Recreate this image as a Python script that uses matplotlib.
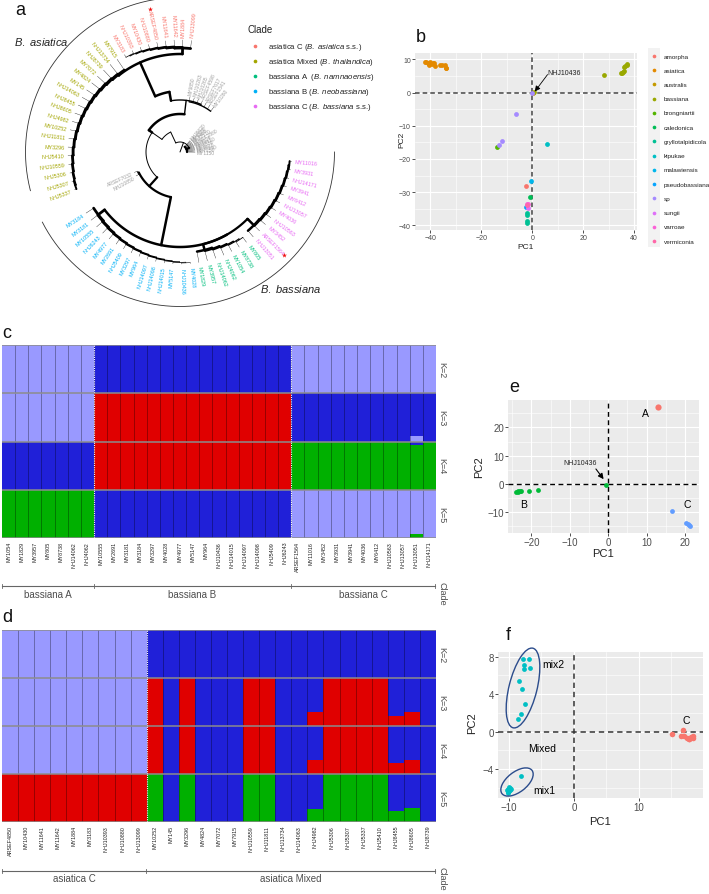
import numpy as np
import matplotlib
matplotlib.use('Agg')
import matplotlib.pyplot as plt
from matplotlib.patches import Ellipse, Rectangle
from matplotlib.ticker import AutoMinorLocator

plt.rcParams['font.family'] = ['Liberation Sans', 'DejaVu Sans']
plt.rcParams['mathtext.fontset'] = 'custom'
plt.rcParams['mathtext.it'] = 'Liberation Sans:italic'
plt.rcParams['mathtext.rm'] = 'Liberation Sans'

W, H = 709, 895

# ---- panel a: tips in tree order, counter clockwise from the right
fan_tips = ['MY1150', 'MY7150', 'NHJ7160', 'MY6610', 'MY8830', 'NHJ4510', 'MY9024', 'ARSEF2860',
            'NHJ2570', 'MY5460', 'MY3320', 'NHJ6620']
upper_tips = ['MY10260', 'ARSEF1541', 'ARSEF7617', 'ARSEF4598', 'NHJ10265', 'NHJ10263', 'MY9850']
asia_c_tips = ['NHJ13099', 'MY1884', 'MY11642', 'MY11641', 'ARSEF4850', 'NHJ10880', 'MY10430',
               'NHJ10393', 'MY3183']
asia_mix_tips = ['MY7915', 'NHJ13734', 'NHJ8739', 'MY7072', 'MY4824', 'MY145', 'NHJ14063', 'NHJ8455',
                 'NHJ8605', 'NHJ4982', 'MY10252', 'NHJ11811', 'MY3296', 'NHJ5410', 'NHJ10559',
                 'NHJ5306', 'NHJ5307', 'NHJ5337']
lower_tips = ['ARSEF7032', 'NHJ10850']
bass_b_tips = ['MY3184', 'MY3181', 'MY10555', 'NHJ6243', 'MY4977', 'MY2691', 'NHJ5409', 'MY3297',
               'MY964', 'NHJ14097', 'NHJ14098', 'NHJ14015', 'MY5147', 'NHJ10436', 'MY4028']
bass_a_tips = ['MY1829', 'MY3957', 'NHJ14062', 'NHJ4062', 'MY1054', 'MY8738', 'MY805']
bass_c_tips = ['NHJ13051', 'ARSEF1564', 'MY3452', 'NHJ10563', 'MY4036', 'NHJ13057', 'MY6412',
               'MY3941', 'NHJ14171', 'MY3931', 'MY11016']
starred = ['ARSEF4850', 'ARSEF1564']

clade_names = ['asiatica C ($\\mathit{B.\\ asiatica}$ s.s.)',
               'asiatica Mixed ($\\mathit{B.\\ thailandica}$)',
               'bassiana A  ($\\mathit{B.\\ namnaoensis}$)',
               'bassiana B ($\\mathit{B.\\ neobassiana}$)',
               'bassiana C ($\\mathit{B.\\ bassiana}$ s.s.)']
clade_colors = ['#F8766D', '#A3A500', '#00BF7D', '#00B0F6', '#E76BF3']

# ---- panel b
species = ['amorpha', 'asiatica', 'australis', 'bassiana', 'brongniartii', 'caledonica',
           'gryllotalpidicola', 'kipukae', 'malawiensis', 'pseudobassiana', 'sp', 'sungii',
           'varroae', 'vermiconia']
species_colors = ['#F8766D', '#E38900', '#C49A00', '#99A800', '#53B400', '#00BC56', '#00C094',
                  '#00BFC4', '#00B6EB', '#06A4FF', '#A58AFF', '#DF70F8', '#FB61D7', '#FF66A8']
b_pc1 = [[-2.3],
         [-42, -41.5, -41, -40.5, -40.5, -40, -39.5, -39, -38.7, -38.3, -36, -35.5, -34.3, -34, -33.8],
         [0.3],
         [28, 35, 35.3, 35.7, 36, 36, 36.5, 37, 37.3, 0.6],
         [-14],
         [-0.8],
         [-2, -1.9, -2.2, -2.1],
         [5.8],
         [-0.3],
         [-2.3],
         [-6.2, -12, -13.2, -0.1],
         [-1.6],
         [-1.8, -2.2],
         [-1.9]]
b_pc2 = [[-28],
         [9.3, 9.2, 9, 8.7, 8.4, 9.1, 8.5, 9, 8.8, 8, 8.4, 8.3, 8.2, 7.5, 7.4],
         [0],
         [5.2, 5.8, 6, 6.3, 7.6, 6.6, 8, 8.4, 8.5, 0.3],
         [-16.3],
         [-31.5],
         [-36.3, -36.8, -38.7, -39.2],
         [-15.6],
         [-26.5],
         [-34.5],
         [-6.5, -14.7, -15.7, -0.2],
         [-34.8],
         [-33.6, -33.7],
         [-33.8]]

# ---- panel c
c_a = ['MY1054', 'MY1829', 'MY3957', 'MY805', 'MY8738', 'NHJ14062', 'NHJ4062']
c_b = ['MY10555', 'MY2691', 'MY3181', 'MY3184', 'MY3297', 'MY4028', 'MY4977', 'MY5147', 'MY964',
       'NHJ10436', 'NHJ14015', 'NHJ14097', 'NHJ14098', 'NHJ5409', 'NHJ6243']
c_c = ['ARSEF1564', 'MY11016', 'MY3452', 'MY3931', 'MY3941', 'MY4036', 'MY6412', 'NHJ10563',
       'NHJ13057', 'NHJ13051', 'NHJ14171']
c_k2 = ['L'] * 7 + ['B'] * 15 + ['L'] * 11
c_k3 = ['L'] * 7 + ['R'] * 15 + ['B'] * 11
c_k4 = ['B'] * 7 + ['R'] * 15 + ['G'] * 9 + ['B', 'G']
c_k5 = ['G'] * 7 + ['B'] * 15 + ['L'] * 11
c_k2_low = {}
c_k3_low = {31: ('L', 0.12)}
c_k4_low = {31: ('G', 0.92)}
c_k5_low = {31: ('G', 0.08)}

# ---- panel d
d_c = ['ARSEF4850', 'MY10430', 'MY11641', 'MY11642', 'MY1884', 'MY3183', 'NHJ10393', 'NHJ10880',
       'NHJ13099']
d_mix = ['MY10252', 'MY145', 'MY3296', 'MY4824', 'MY7072', 'MY7915', 'NHJ10559', 'NHJ11811',
         'NHJ13734', 'NHJ14063', 'NHJ4982', 'NHJ5306', 'NHJ5307', 'NHJ5337', 'NHJ5410', 'NHJ8455',
         'NHJ8605', 'NHJ8739']
d_k2 = ['L'] * 9 + ['B'] * 18
d_k3 = ['L'] * 9 + list('RBRBBBRRBBBRRRRBBB')
d_k4 = ['L'] * 9 + list('RBRBBBRRBBBRRRRBBB')
d_k5 = ['R'] * 9 + list('GBGBBBGGBBBGGGGBBB')
d_k2_low = {}
d_k3_low = {19: ('R', 0.29), 24: ('R', 0.21), 25: ('R', 0.29)}
d_k4_low = {19: ('R', 0.29), 24: ('R', 0.22), 25: ('R', 0.30)}
d_k5_low = {19: ('G', 0.28), 24: ('G', 0.22), 25: ('G', 0.29)}

# ---- panel e
e_a_x, e_a_y = [12.9], [27.2]
e_b_x = [-24, -23.6, -23.4, -23, -22.7, -20.5, -18.3, -0.7]
e_b_y = [-2.7, -2.7, -2.6, -2.6, -2.6, -2.3, -2.1, -0.2]
e_c_x = [16.7, 20.3, 20.7, 21, 21.2]
e_c_y = [-9.6, -13.7, -14.2, -14.5, -15]

# ---- panel f
f_mix_x = [-7.9, -6.9, -7.7, -7.7, -6.8, -8.4, -8, -7.6, -8.2, -8.6, -8.2,
           -10.2, -10, -10.2, -9.9, -10.1, -9.8, -10, -9.7, -10.3]
f_mix_y = [7.7, 7.7, 7.1, 6.7, 6.8, 5.4, 4.5, 2.9, 1.85, 1.4, -4.7,
           -6.1, -5.9, -6.4, -6.2, -6.5, -6, -6.3, -6.1, -6.2]
f_c_x = [15.1, 16.8, 16.5, 17, 17.5, 17.8, 18, 18.3, 18.4, 17.7]
f_c_y = [-0.25, 0.2, -0.5, -0.5, -0.7, -0.8, -0.6, -0.45, -0.7, -0.75]

cluster_colors = {'L': '#9999FF', 'B': '#2020D8', 'R': '#E00000', 'G': '#00B000'}

fig = plt.figure(figsize=(W / 100, H / 100), dpi=100)
ov = fig.add_axes([0, 0, 1, 1], zorder=5)
ov.set_xlim(0, W)
ov.set_ylim(H, 0)
ov.axis('off')
ov.patch.set_alpha(0)


def px_axes(left, top, right, bottom):
    return fig.add_axes([left / W, 1 - bottom / H, (right - left) / W, (bottom - top) / H])


def gg_style(ax, xticks, yticks):
    ax.set_facecolor('#EBEBEB')
    ax.set_xticks(xticks)
    ax.set_yticks(yticks)
    ax.xaxis.set_minor_locator(AutoMinorLocator(2))
    ax.yaxis.set_minor_locator(AutoMinorLocator(2))
    ax.grid(which='major', color='white', lw=0.8)
    ax.grid(which='minor', color='white', lw=0.4)
    ax.set_axisbelow(True)
    ax.tick_params(which='major', length=2, width=0.6, color='#333333', labelcolor='#4D4D4D', pad=1)
    ax.tick_params(which='minor', length=0)
    for s in ax.spines.values():
        s.set_visible(False)


# ---- tree, radii in pixels round the centre
CX, CY = 180, 153
STEP = 360 / 81
tip_angle = [-0.3]
tip_xy = {}


def pol(r, a):
    t = np.radians(a)
    return CX + r * np.cos(t), CY - r * np.sin(t)


def node(r, kids, lw=0.5, tip=112, angle=None):
    return {'r': r, 'kids': kids, 'lw': lw, 'tip': tip, 'angle': angle}


def ladder(names, r0, r1, lw0, lw1, tip=112):
    n = len(names)
    cur = node(r1, names[-2:], lw1, tip)
    for i in range(n - 3, -1, -1):
        f = i / (n - 2)
        cur = node(r0 + (r1 - r0) * f, [names[i], cur], lw0 + (lw1 - lw0) * f, tip)
    return cur


def draw_tree(n, parent_r):
    angles = []
    for kid in n['kids']:
        if isinstance(kid, str):
            a = tip_angle[0]
            tip_angle[0] += STEP
            xs, ys = pol(np.array([n['r'], n['tip']]), a)
            ov.plot(xs, ys, color='black', lw=0.25)
            tip_xy[kid] = (n['tip'], a)
            angles.append(a)
        else:
            angles.append(draw_tree(kid, n['r']))
    a = n['angle'] if n['angle'] is not None else (angles[0] + angles[-1]) / 2
    span = np.linspace(min(angles + [a]), max(angles + [a]), 80)
    xs, ys = pol(n['r'], span)
    ov.plot(xs, ys, color='black', lw=n['lw'], solid_capstyle='round')
    xs, ys = pol(np.array([parent_r, n['r']]), a)
    ov.plot(xs, ys, color='black', lw=n['lw'], solid_capstyle='round')
    return a


fan = node(7, fan_tips, 1.6, tip=15)
upper = node(51, upper_tips, 1.0, tip=56)
asia_c = ladder(asia_c_tips, 104, 109, 2.0, 0.5)
asia_mix = ladder(asia_mix_tips, 99, 110, 2.0, 1.4)
asia = node(98, [asia_c, asia_mix], 1.8, angle=114)
asia_step = node(61, [asia], 1.8, angle=100)
n1 = node(52, [upper, asia_step], 1.0)
y_node = node(38, [n1], 1.8, angle=145)
lower = node(47, lower_tips, 0.5, tip=50)
cyan = ladder(bass_b_tips, 103, 111, 2.0, 0.4)
green = ladder(bass_a_tips, 101, 106, 1.8, 0.6)
pink = ladder(bass_c_tips, 104, 110, 1.8, 1.4)
green_pink = node(95, [green, node(96, [pink], 1.8)], 1.6)
bassiana = node(95, [cyan, green_pink], 1.8)
lower_all = node(46, [lower, bassiana], 1.6, angle=228)
x_node = node(34, [y_node, lower_all], 0.7, angle=145)
z_node = node(22, [x_node], 0.7, angle=115)
root = node(10, [fan, z_node], 0.7)
draw_tree(root, 0)

groups = [(fan_tips + upper_tips + lower_tips, '#A0A0A0', 3.6),
          (asia_c_tips, clade_colors[0], 3.9), (asia_mix_tips, clade_colors[1], 3.9),
          (bass_a_tips, clade_colors[2], 3.9), (bass_b_tips, clade_colors[3], 3.9),
          (bass_c_tips, clade_colors[4], 3.9)]
for names, col, fs in groups:
    for name in names:
        r, a = tip_xy[name]
        a = a % 360
        r_lab = r + 3.5 if col != '#A0A0A0' else r + 2
        x, y = pol(r_lab, a)
        left = 90 < a < 270
        ov.text(x, y, name, color=col, fontsize=fs, rotation=a + 180 if left else a,
                ha='right' if left else 'left', va='center', rotation_mode='anchor')
        if name in starred:
            sx, sy = pol(146, a)
            ov.scatter([sx], [sy], marker='*', s=14, color='#F01010', linewidths=0, zorder=6)

for a0, a1 in [(83, 194.5), (207, 360)]:
    xs, ys = pol(154.5, np.linspace(a0, a1, 200))
    ov.plot(xs, ys, color='#333333', lw=0.6)

ov.text(41, 42, '$\\mathit{B.\\ asiatica}$', fontsize=8, ha='center', va='center', color='#222222')
ov.text(291, 289, '$\\mathit{B.\\ bassiana}$', fontsize=8, ha='center', va='center', color='#222222')

ov.text(248, 30, 'Clade', fontsize=7, va='center', color='#222222')
for i, (label, col) in enumerate(zip(clade_names, clade_colors)):
    ov.scatter([255], [47 + 15 * i], s=7, color=col, linewidths=0)
    ov.text(268, 47 + 15 * i, label, fontsize=5.6, va='center', color='#222222')

# ---- b
ax_b = px_axes(415, 54, 637, 231)
for xs, ys, col in zip(b_pc1, b_pc2, species_colors):
    ax_b.scatter(xs, ys, s=12, color=col, linewidths=0, zorder=3)
ax_b.axhline(0, color='#444444', lw=1.1, ls=(0, (3, 2)), zorder=2)
ax_b.axvline(0, color='#444444', lw=1.1, ls=(0, (3, 2)), zorder=2)
ax_b.set_xlim(-46, 41.1)
ax_b.set_ylim(-41.4, 11.9)
gg_style(ax_b, [-40, -20, 0, 20, 40], [-40, -30, -20, -10, 0, 10])
ax_b.tick_params(labelsize=5)
ax_b.text(6, 5.9, 'NHJ10436', fontsize=5, va='center', color='#222222')
ax_b.annotate('', xy=(1, 0.3), xytext=(6, 5.4),
              arrowprops=dict(arrowstyle='-|>', color='black', lw=0.6, shrinkA=0, shrinkB=0, mutation_scale=8))
ov.text(526, 247, 'PC1', fontsize=6, ha='center', va='center', color='#222222')
ov.text(402, 140, 'PC2', fontsize=6, ha='center', va='center', rotation=90, color='#222222')

ov.add_patch(Rectangle((648, 49), 12, 199, color='#F2F2F2', lw=0))
for i, (name, col) in enumerate(zip(species, species_colors)):
    y = 57 + i * (242 - 57) / 13
    ov.scatter([654], [y], s=7, color=col, linewidths=0)
    ov.text(664, y, name, fontsize=4.6, va='center', color='#222222')


# ---- structure bars
def structure(top, rows, lows, names, splits, row_h=48.25):
    n = len(names)
    x = np.arange(n)
    for i, (base, low) in enumerate(zip(rows, lows)):
        ax = px_axes(2, top + i * row_h, 436, top + (i + 1) * row_h)
        ax.bar(x + 0.5, [1] * n, width=1, color=[cluster_colors[c] for c in base], linewidth=0)
        for j, (c, share) in low.items():
            ax.bar(j + 0.5, share, width=1, color=cluster_colors[c], linewidth=0)
        ax.vlines(np.arange(1, n), 0, 1, color='black', lw=0.5, alpha=0.45)
        ax.axhline(1, color='#8C8C8C', lw=1.1)
        ax.axhline(0, color='#8C8C8C', lw=1.1)
        for s in splits:
            ax.vlines(s, 0, 1, color='white', lw=0.8, ls=(0, (1, 1)), zorder=4)
        ax.set_xlim(0, n)
        ax.set_ylim(0, 1)
        ax.set_yticks([])
        for s in ax.spines.values():
            s.set_visible(False)
        ax.text(1.014, 0.5, 'K=%d' % (i + 2), rotation=-90, transform=ax.transAxes, fontsize=6.5,
                ha='center', va='center', color='#4D4D4D')
        if i == len(rows) - 1:
            ax.set_xticks(x + 0.5, names, rotation=90, fontsize=3.9, color='#222222')
            ax.tick_params(axis='x', length=0, pad=2)
        else:
            ax.set_xticks([])


def clade_rule(y, edges, names):
    ov.plot([edges[0], edges[-1]], [y, y], color='#666666', lw=0.8)
    for e in edges:
        ov.plot([e, e], [y - 2, y + 2], color='#666666', lw=0.6)
    for a, b, name in zip(edges[:-1], edges[1:], names):
        ov.text((a + b) / 2, y + 7.5, name, fontsize=7, ha='center', va='center', color='#4D4D4D')
    ov.text(442, y + 7, 'Clade', fontsize=6.5, rotation=-90, ha='center', va='center', color='#4D4D4D')


structure(346, [c_k2, c_k3, c_k4, c_k5], [c_k2_low, c_k3_low, c_k4_low, c_k5_low], c_a + c_b + c_c, [7, 22])
clade_rule(587, [2, 94, 291, 435], ['bassiana A', 'bassiana B', 'bassiana C'])
structure(631, [d_k2, d_k3, d_k4, d_k5], [d_k2_low, d_k3_low, d_k4_low, d_k5_low], d_c + d_mix, [9], row_h=48)
clade_rule(871.5, [2, 146, 435], ['asiatica C', 'asiatica Mixed'])

# ---- e
ax_e = px_axes(508, 401, 699, 534)
ax_e.scatter(e_a_x, e_a_y, s=20, color='#F8766D', linewidths=0, zorder=3)
ax_e.scatter(e_b_x, e_b_y, s=12, color='#00BA38', linewidths=0, zorder=3)
ax_e.scatter(e_c_x, e_c_y, s=12, color='#619CFF', linewidths=0, zorder=3)
ax_e.axhline(0, color='black', lw=1, ls=(0, (3.5, 2.5)), zorder=2)
ax_e.axvline(0, color='black', lw=1, ls=(0, (3.5, 2.5)), zorder=2)
ax_e.set_xlim(-26.1, 23.65)
ax_e.set_ylim(-17.3, 29.65)
gg_style(ax_e, [-20, -10, 0, 10, 20], [-10, 0, 10, 20])
ax_e.tick_params(labelsize=7)
ax_e.text(9.7, 25.2, 'A', fontsize=7.5, ha='center', va='center')
ax_e.text(-22, -7, 'B', fontsize=7.5, ha='center', va='center')
ax_e.text(20.5, -7.2, 'C', fontsize=7.5, ha='center', va='center')
ax_e.text(-2.9, 7.6, 'NHJ10436', fontsize=5, ha='right', va='center', color='#222222')
ax_e.annotate('', xy=(-1.2, 1.7), xytext=(-3.2, 5.3),
              arrowprops=dict(arrowstyle='-|>', color='black', lw=0.8, shrinkA=0, shrinkB=0, mutation_scale=8))
ov.text(603, 554, 'PC1', fontsize=8, ha='center', va='center', color='#222222')
ov.text(479, 467, 'PC2', fontsize=8, ha='center', va='center', rotation=90, color='#222222')

# ---- f
ax_f = px_axes(498, 653, 703, 799)
ax_f.scatter(f_mix_x, f_mix_y, s=12, color='#00BFC4', linewidths=0, zorder=3)
ax_f.scatter(f_c_x, f_c_y, s=16, color='#F8766D', linewidths=0, zorder=3)
ax_f.axhline(0, color='#333333', lw=1.1, ls=(0, (3.5, 2.5)), zorder=2)
ax_f.axvline(0, color='#333333', lw=1.1, ls=(0, (3.5, 2.5)), zorder=2)
ax_f.set_xlim(-11.7, 19.9)
ax_f.set_ylim(-7.08, 8.5)
gg_style(ax_f, [-10, 0, 10], [-4, 0, 4, 8])
ax_f.tick_params(labelsize=7)
ax_f.text(-3.1, 7.25, 'mix2', fontsize=7.5, ha='center', va='center')
ax_f.text(-4.95, -1.7, 'Mixed', fontsize=7.5, ha='center', va='center')
ax_f.text(-4.6, -6.2, 'mix1', fontsize=7.5, ha='center', va='center')
ax_f.text(17.3, 1.2, 'C', fontsize=7.5, ha='center', va='center')
ov.text(600, 822, 'PC1', fontsize=8, ha='center', va='center', color='#222222')
ov.text(472, 723, 'PC2', fontsize=8, ha='center', va='center', rotation=90, color='#222222')
ov.add_patch(Ellipse((523, 689), 82, 28, angle=-76, fill=False, ec='#2B4C8C', lw=1))
ov.add_patch(Ellipse((517, 783), 38, 20, angle=-38, fill=False, ec='#2B4C8C', lw=1))

for lab, x, y in [('a', 20, 10), ('b', 421, 37), ('c', 7, 333), ('d', 7, 618), ('e', 514, 388), ('f', 508, 635)]:
    ov.text(x, y, lab, fontsize=13, ha='center', va='center', color='#111111')

fig.savefig('out.png', dpi=100)
